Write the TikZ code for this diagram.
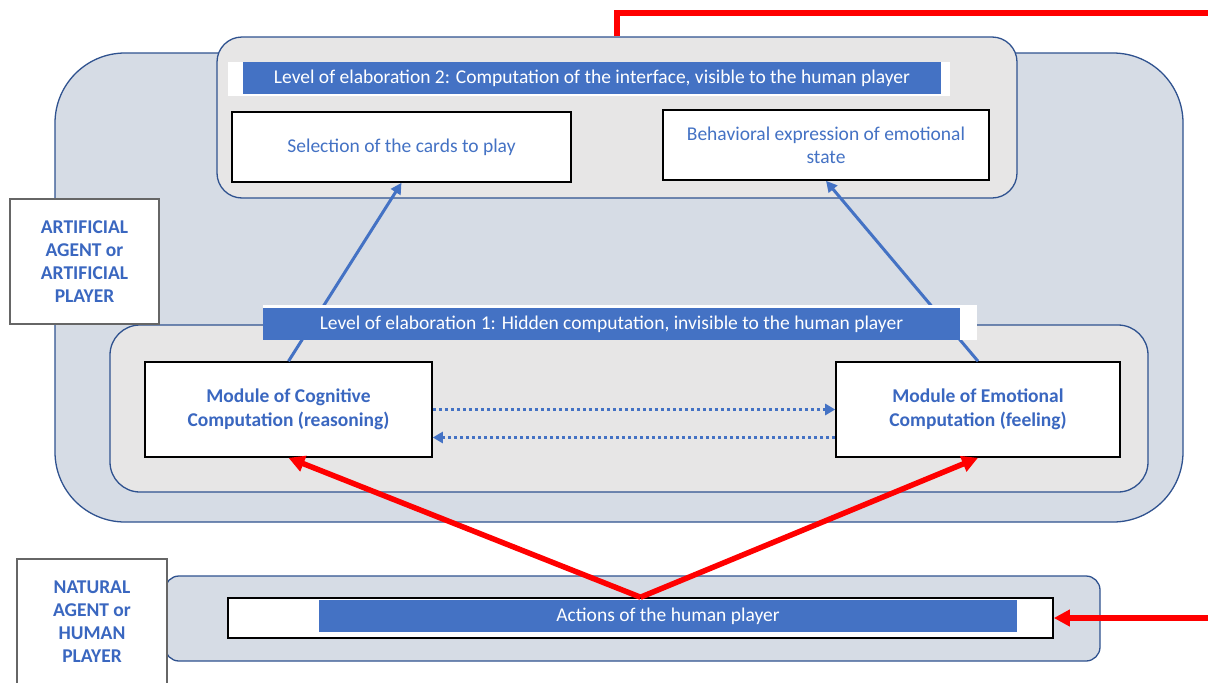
\documentclass[tikz,border=0pt]{standalone}
\usepackage{fontspec}
\setmainfont{Carlito}
\usetikzlibrary{arrows.meta,calc}
\definecolor{outerfill}{HTML}{D6DCE5}
\definecolor{innerfill}{HTML}{E7E6E6}
\definecolor{framecol}{HTML}{2F528F}
\definecolor{barblue}{HTML}{4472C4}
\definecolor{txtblue}{HTML}{4472C4}
\definecolor{boldblue}{HTML}{3A67C0}
\definecolor{redc}{HTML}{FF0000}
\tikzset{
  region/.style={draw=framecol, line width=1.3pt, fill=outerfill},
  level/.style={draw=framecol, line width=1.3pt, fill=innerfill},
  whitebox/.style={draw=black, line width=1.6pt, fill=white, align=center, text=txtblue, font=\fontsize{19.5}{23}\selectfont},
  modbox/.style={draw=black, line width=1.6pt, fill=white, align=center, text=boldblue, font=\fontsize{19.5}{24}\selectfont\bfseries},
  labelbox/.style={draw=gray!80!black, line width=1.3pt, fill=white, align=center, text=boldblue, font=\fontsize{19.5}{23}\selectfont\bfseries},
  bar/.style={fill=barblue, text=white, font=\fontsize{19.5}{22}\selectfont, inner sep=0pt},
  plainwhite/.style={fill=white, inner sep=0pt},
  bluearrow/.style={draw=barblue, line width=3pt, -{Triangle[length=11pt,width=11pt]}},
  dotarrow/.style={draw=barblue, line width=3.2pt, dash pattern=on 3.5pt off 2.5pt, -{Triangle[length=10pt,width=11pt]}},
  redarrow/.style={draw=redc, line width=5.5pt, -{Triangle[length=16pt,width=16pt]}},
  redline/.style={draw=redc, line width=5.5pt}
}
\begin{document}
\begin{tikzpicture}[x=1pt,y=-1pt]
\useasboundingbox (0,0) rectangle (1208,683);
\fill[white] (0,0) rectangle (1208,683);

% regions
\node[region, rounded corners=70pt, minimum width=1128pt, minimum height=469pt] (art) at (619,287.5) {};
\node[level, rounded corners=30pt, minimum width=1038pt, minimum height=167pt] (lev1) at (629,408.5) {};
\node[level, rounded corners=25pt, minimum width=800pt, minimum height=161pt] (lev2) at (617,117.5) {};
\node[region, rounded corners=14pt, minimum width=935pt, minimum height=85pt] (nat) at (632.5,618.5) {};

% boxes
\node[whitebox, minimum width=339pt, minimum height=70pt] (sel) at (401.5,147) {Selection of the cards to play};
\node[whitebox, minimum width=326pt, minimum height=70pt] (beh) at (826,145) {Behavioral expression of emotional\\state};
\node[modbox, minimum width=287pt, minimum height=95pt] (cog) at (288.5,409.5) {Module of Cognitive\\Computation (reasoning)};
\node[modbox, minimum width=284pt, minimum height=95pt] (emo) at (978,409.5) {Module of Emotional\\Computation (feeling)};

% blue arrows (behind the level-1 bar)
\draw[bluearrow] (cog.north) -- (sel.south);
\draw[bluearrow] (emo.north) -- (beh.south);

% title bars
\node[plainwhite, minimum width=722pt, minimum height=34pt] (w2) at (589,79) {};
\node[bar, minimum width=698pt, minimum height=32pt] (bar2) at (592,78) {Level of elaboration 2: Computation of the interface, visible to the human player};
\node[plainwhite, minimum width=714pt, minimum height=35pt] (w1) at (620,322.5) {};
\node[bar, minimum width=697pt, minimum height=32pt] (bar1) at (611.5,324) {Level of elaboration 1: Hidden computation, invisible to the human player};

% dotted arrows
\draw[dotarrow] (cog.east) -- (emo.west);
\draw[dotarrow] ([yshift=-28pt]emo.west) -- ([yshift=-28pt]cog.east);

% side labels
\node[labelbox, minimum width=149pt, minimum height=125pt] (artlab) at (84.5,261.5) {ARTIFICIAL\\AGENT or\\ARTIFICIAL\\PLAYER};
\node[labelbox, minimum width=150pt, minimum height=126pt] (natlab) at (92,622) {NATURAL\\AGENT or\\HUMAN\\PLAYER};

% actions
\node[draw=black, line width=1.6pt, fill=white, minimum width=825pt, minimum height=40pt] (act) at (640.5,618) {};
\node[bar, minimum width=698pt, minimum height=32pt] (actbar) at (668,616) {Actions of the human player};

% red connectors
\draw[redarrow] (act.north) -- (cog.south);
\draw[redarrow] (act.north) -- (emo.south);
\coordinate (rin) at (1212,618);
\draw[redarrow] (rin) -- (act.east);
\coordinate (rtop) at (1212,13);
\draw[redline] (lev2.north) |- (rtop);
\end{tikzpicture}
\end{document}
